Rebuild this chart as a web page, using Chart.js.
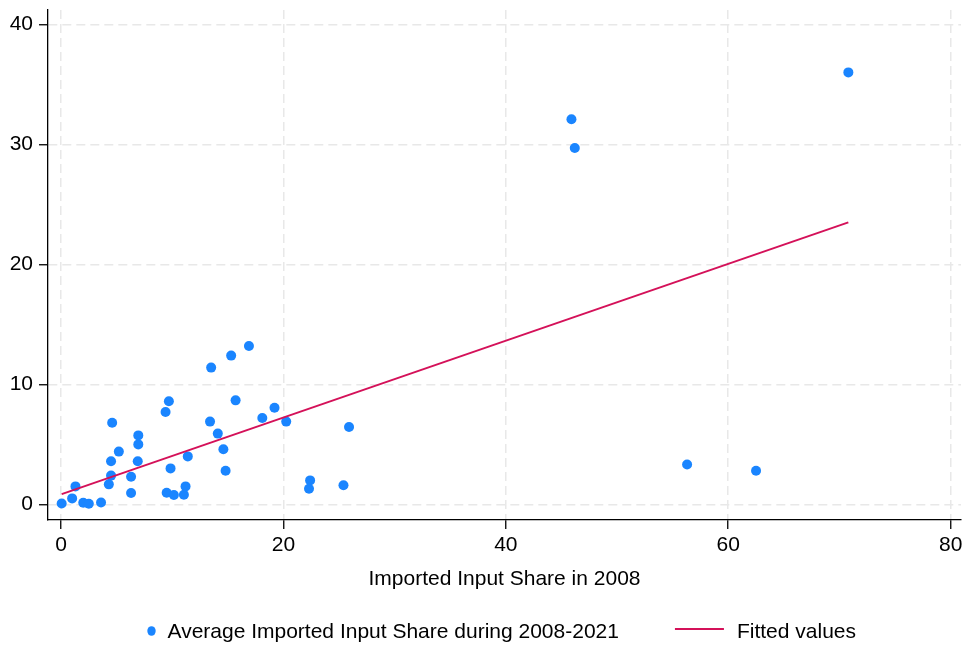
<!DOCTYPE html>
<html>
<head>
<meta charset="utf-8">
<script src="https://cdn.jsdelivr.net/npm/chart.js@4.4.0/dist/chart.umd.min.js"></script>
<style>
html,body{margin:0;padding:0;background:#fff;}
canvas{display:block;}
</style>
</head>
<body>
<canvas id="c" width="966" height="648"></canvas>
<script>
// Data
const importShare2008 = [0.06,1.0,1.3,2.0,2.5,3.6,4.3,4.5,4.5,4.6,5.2,6.3,6.3,6.9,6.95,6.95,9.4,9.7,9.85,9.5,10.15,11.05,11.2,11.4,13.5,15.3,16.9,15.7,19.2,18.1,20.25,13.4,14.1,14.6,14.8,25.9,22.4,22.3,25.4,45.9,46.2,70.8,56.3,62.5];
const avgImportShare = [0.08,0.5,1.5,0.14,0.05,0.16,1.67,2.4,3.6,6.8,4.4,2.3,0.95,3.6,5.0,5.75,7.7,8.6,3.0,0.97,0.78,0.8,1.5,4.0,11.4,12.4,13.2,8.67,8.06,7.2,6.9,6.9,5.9,4.6,2.8,6.45,2.0,1.3,1.6,32.1,29.7,36.0,3.33,2.8];
const fitX = [0.06, 70.8];
const fitY = [0.86, 23.5];
const xTicks = [0,20,40,60,80];
const yTicks = [0,10,20,30,40];
const scatterLabel = 'Average Imported Input Share during 2008-2021';
const fitLabel = 'Fitted values';
const xTitle = 'Imported Input Share in 2008';

const BLUE = '#1a85ff';
const RED = '#d41159';
const FONT = '"Liberation Sans", Arial, Helvetica, sans-serif';

const scatterPts = importShare2008.map((x,i)=>({x:x, y:avgImportShare[i]}));
const fitPts = fitX.map((x,i)=>({x:x, y:fitY[i]}));

const legendPlugin = {
  id:'stataLegend',
  afterDraw(chart){
    const ctx = chart.ctx;
    const ca = chart.chartArea;
    ctx.save();
    ctx.font = '21px ' + FONT;
    ctx.fillStyle = '#000';
    ctx.textBaseline = 'middle';
    ctx.textAlign = 'left';
    const ds = chart.data.datasets;
    const t1 = ds[0].label, t2 = ds[1].label;
    const w1 = 20.5 + ctx.measureText(t1).width;
    const w2 = 49 + 13 + ctx.measureText(t2).width;
    const gap = 56;
    const total = w1 + gap + w2;
    const cx = (ca.left + ca.right)/2 - 3;
    let x = cx - total/2;
    const y = 631;
    ctx.beginPath();
    ctx.fillStyle = ds[0].backgroundColor;
    ctx.ellipse(x+4.5, y, 4.2, 4.8, 0, 0, Math.PI*2);
    ctx.fill();
    ctx.fillStyle = '#000';
    ctx.fillText(t1, x+20.5, y+1);
    x += w1 + gap;
    ctx.strokeStyle = ds[1].borderColor;
    ctx.lineWidth = 2;
    ctx.beginPath();
    ctx.moveTo(x, y-2);
    ctx.lineTo(x+49, y-2);
    ctx.stroke();
    ctx.fillText(t2, x+62, y+1);
    ctx.restore();
  }
};

new Chart(document.getElementById('c'), {
  type:'scatter',
  data:{
    datasets:[
      {label:scatterLabel, data:scatterPts, backgroundColor:BLUE, borderWidth:0, pointRadius:5, pointHoverRadius:5, order:1},
      {label:fitLabel, type:'line', data:fitPts, borderColor:RED, backgroundColor:RED, borderWidth:2, pointRadius:0, showLine:true, fill:false, order:0}
    ]
  },
  options:{
    responsive:false,
    animation:false,
    devicePixelRatio:1,
    layout:{padding:{top:10, right:0, left:0, bottom:48}},
    plugins:{legend:{display:false}, tooltip:{enabled:false}},
    scales:{
      x:{
        type:'linear', min:-1.17, max:80.93,
        afterBuildTicks(s){ s.ticks = xTicks.map(v=>({value:v})); },
        afterFit(s){ s.height = 80; s.paddingLeft = 0; s.paddingRight = 0; },
        ticks:{font:{family:FONT, size:21}, color:'#000', padding:4, maxRotation:0},
        grid:{color:'#e8e8e8', lineWidth:1.5, tickLength:9, tickColor:'#000', tickWidth:1.3, drawTicks:true},
        border:{display:true, color:'#000', width:1.3, dash:[9,5]},
        title:{display:true, text:xTitle, font:{family:FONT, size:21}, color:'#000', padding:{top:0, bottom:8}}
      },
      y:{
        type:'linear', min:-1.3, max:41.2,
        afterBuildTicks(s){ s.ticks = yTicks.map(v=>({value:v})); },
        afterFit(s){ s.width = 48; s.paddingTop = 0; s.paddingBottom = 0; },
        ticks:{font:{family:FONT, size:21}, color:'#000', padding:6},
        grid:{color:'#e8e8e8', lineWidth:1.5, tickLength:9, tickColor:'#000', tickWidth:1.3, drawTicks:true},
        border:{display:true, color:'#000', width:1.3, dash:[9,5]}
      }
    }
  },
  plugins:[legendPlugin]
});
</script>
</body>
</html>
